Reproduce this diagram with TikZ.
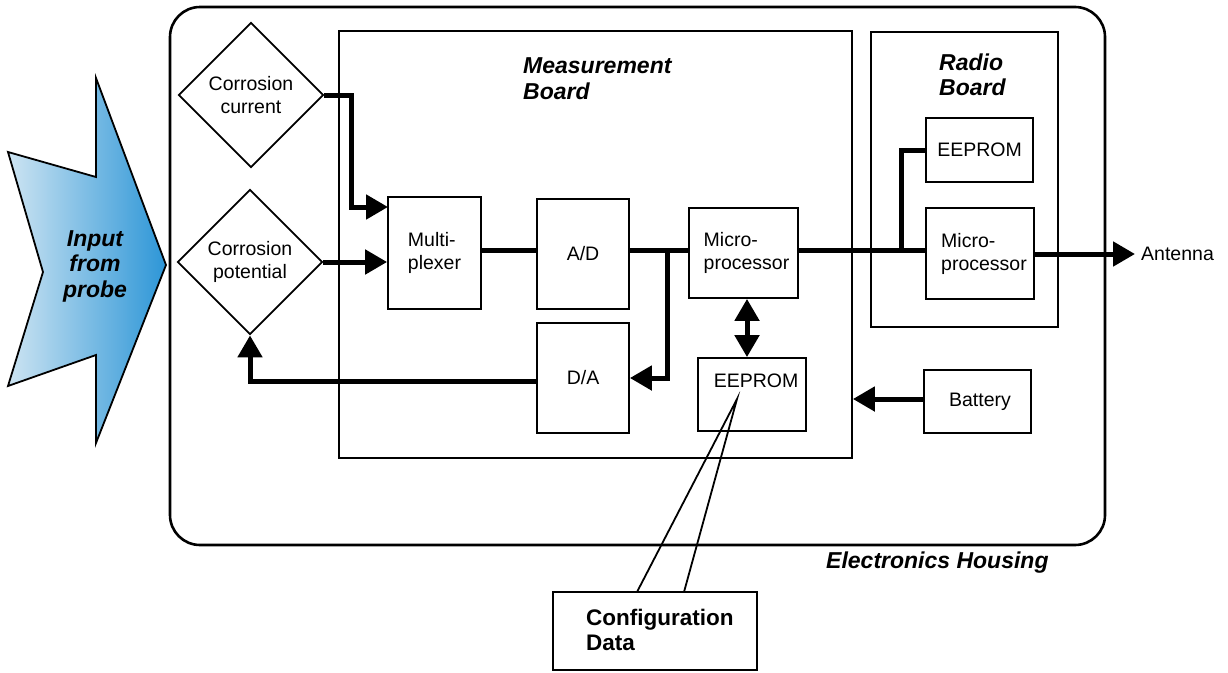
\documentclass[tikz,border=0pt]{standalone}
\usepackage{fontspec}
\setmainfont{Liberation Sans}
\usetikzlibrary{arrows.meta,shapes.geometric}
\definecolor{probeL}{RGB}{205,228,242}
\definecolor{probeR}{RGB}{45,150,215}
\tikzset{
  box/.style={draw,line width=1.8pt,minimum width=#1,inner sep=0pt},
  lbl/.style={font=\fontsize{19.5}{23}\selectfont,align=left,inner sep=0pt},
  title/.style={font=\fontsize{23}{25.5}\selectfont\bfseries\itshape,align=left,inner sep=0pt},
  dia/.style={draw,line width=1.8pt,diamond,aspect=1,minimum width=145pt,minimum height=145pt,inner sep=0pt,
    font=\fontsize{19.5}{23}\selectfont,align=center},
  conn/.style={line width=5pt},
  tip/.style={-{Triangle[length=22pt,width=24pt]}},
  tips/.style={{Triangle[length=22pt,width=24pt]}-{Triangle[length=22pt,width=24pt]}},
}
\begin{document}
\begin{tikzpicture}[x=1pt,y=-1pt]
\useasboundingbox (0,0) rectangle (1228,672);

% housing and boards
\draw[line width=2.6pt,rounded corners=30pt] (170,7) rectangle (1105,545);
\node[box=0pt,minimum width=513pt,minimum height=427pt] (meas) at (595.5,244.5) {};
\node[box=0pt,minimum width=187pt,minimum height=295pt] (radio) at (964.5,179.5) {};
\node[title] (meastitle) at (523,78.5) [anchor=west] {Measurement\\Board};
\node[title] (radiotitle) at (939,75) [anchor=west] {Radio\\Board};
\node[title] (housing) at (826,563) [anchor=west] {Electronics Housing};

% probe input arrow
\draw[line width=1.8pt,left color=probeL,right color=probeR]
  (8,152) -- (96,177) -- (96,78) -- (166,265) -- (96,443) -- (96,355) -- (8,386) -- (43,272) -- cycle;
\node[title,align=center] (probe) at (95,266) {Input\\from\\probe};

% sensing inputs
\node[dia] (cc) at (251,95) {Corrosion\\current};
\node[dia] (cp) at (250,262) {Corrosion\\potential};

% measurement board blocks
\node[box=93pt,minimum height=112pt,lbl] (mux) at (434.5,253) {Multi-\\plexer};
\node[box=92pt,minimum height=110pt,lbl] (ad) at (583,254) {A/D};
\node[box=92pt,minimum height=110pt,lbl] (da) at (583,378) {D/A};
\node[box=109pt,minimum height=90pt,lbl] (mp) at (743.5,253) {\hspace*{6pt}Micro-\\\hspace*{6pt}processor};
\node[box=108pt,minimum height=73pt] (ee) at (752,394.5) {};
\node[lbl] (eetxt) at (756,381) {EEPROM};

% radio board blocks
\node[box=107pt,minimum height=64pt,lbl] (ree) at (979.5,150) {EEPROM};
\node[box=108pt,minimum height=91pt,lbl] (rmp) at (980,253.5) {\hspace*{8pt}Micro-\\\hspace*{8pt}processor};
\node[box=107pt,minimum height=63pt,lbl] (bat) at (977.5,401.5) {\hspace*{5pt}Battery};

% connection points
\coordinate (busy) at (0,250);
\coordinate (muxin) at (388,207);
\coordinate (adbr) at (667,250);
\coordinate (rbr) at (901,250);
\coordinate (mpee) at (747,0);
\coordinate (day) at (0,381);
\coordinate (anty) at (0,254);
\coordinate (ant) at (1135,254);
\coordinate (baty) at (0,399);

% signal paths
\draw[conn,tip] (cc.east) -- ++(27,0) |- (muxin);
\draw[conn,tip] (cp.east) -- (cp.east -| mux.west);
\draw[conn] (mux.east |- busy) -- (ad.west |- busy);
\draw[conn] (ad.east |- busy) -- (mp.west |- busy);
\draw[conn,tip] (adbr) -- (adbr |- da.east) -- (da.east);
\draw[conn,tips] (mpee |- mp.south) -- (mpee |- ee.north);
\draw[conn] (mp.east |- busy) -- (rmp.west |- busy);
\draw[conn] (rbr) |- (ree.west);
\draw[conn,tip] (rmp.east |- anty) -- (ant);
\node[lbl,anchor=west] (anttxt) at ([xshift=6pt]ant) {Antenna};
\draw[conn,tip] (da.west |- day) -| (cp.south);
\draw[conn,tip] (bat.west |- baty) -- (meas.east |- baty);

% configuration data callout
\node[box=0pt,minimum width=204pt,minimum height=78pt,fill=white] (cfg) at (655,631) {};
\node[title,font=\fontsize{22.5}{25}\selectfont\bfseries,anchor=west] (cfgtxt) at (586,630) {Configuration\\Data};
\coordinate (cfgtip) at (737,399);
\draw[line width=1.8pt] (637,592) -- (cfgtip) -- (684,592);
\end{tikzpicture}
\end{document}
